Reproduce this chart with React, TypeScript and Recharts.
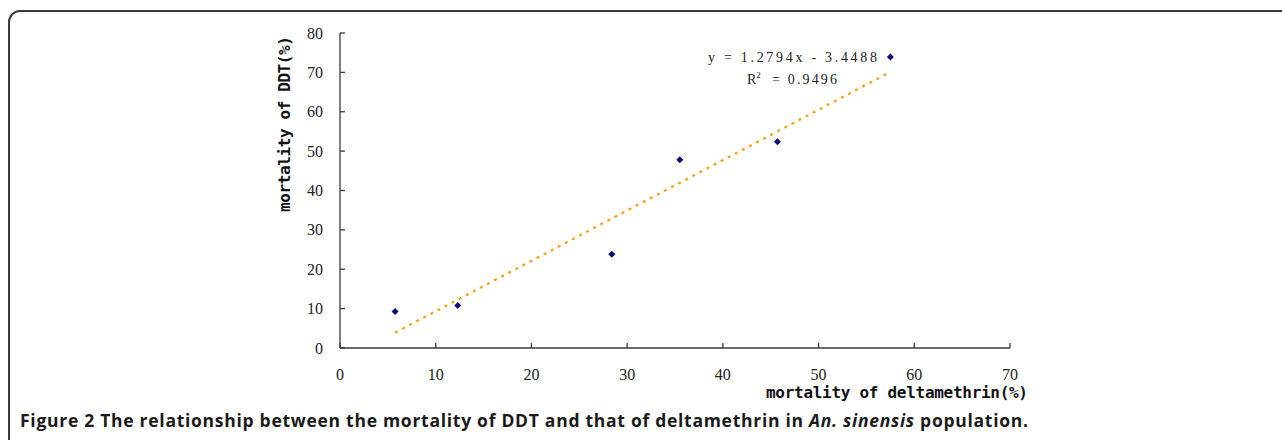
import React from "react";
import {
  ScatterChart,
  Scatter,
  XAxis,
  YAxis,
  ReferenceLine,
} from "recharts";

// deltamethrin mortality (%) vs DDT mortality (%)
const deltamethrin = [5.75, 12.3, 28.4, 35.5, 45.7, 57.5];
const ddt = [9.3, 10.8, 23.8, 47.8, 52.4, 73.9];

// ends of the fitted trend line
const trendX = [5.75, 57.5];
const trendY = [3.9, 70.1];

const xTicks = [0, 10, 20, 30, 40, 50, 60, 70];
const yTicks = [0, 10, 20, 30, 40, 50, 60, 70, 80];

const equation = "y = 1.2794x - 3.4488";
const rSquared = "= 0.9496";

const points = deltamethrin.map((x, i) => ({ x, y: ddt[i] }));

const axisColor = "#3a3a3a";
const tickFont = "'Liberation Serif', 'DejaVu Serif', serif";
const monoFont = "'DejaVu Sans Mono', 'Liberation Mono', monospace";

const XTick = (props: any) => {
  const { x, y, payload } = props;
  return (
    <g>
      <line x1={x} y1={y} x2={x} y2={y - 5} stroke={axisColor} strokeWidth={1.3} />
      <text x={x} y={y + 32} textAnchor="middle" fontFamily={tickFont} fontSize={16} fill="#222">
        {payload.value}
      </text>
    </g>
  );
};

const YTick = (props: any) => {
  const { x, y, payload } = props;
  return (
    <g>
      <line x1={x} y1={y} x2={x + 5} y2={y} stroke={axisColor} strokeWidth={1.3} />
      <text x={x - 17} y={y + 5.5} textAnchor="end" fontFamily={tickFont} fontSize={16} fill="#222">
        {payload.value}
      </text>
    </g>
  );
};

const Diamond = (props: any) => {
  const { cx, cy } = props;
  const r = 3.5;
  return (
    <polygon
      points={`${cx},${cy - r} ${cx + r},${cy} ${cx},${cy + r} ${cx - r},${cy}`}
      fill="#0a0a80"
    />
  );
};

export default function App() {
  return (
    <div
      style={{
        position: "absolute",
        left: 0,
        top: 0,
        width: 1282,
        height: 440,
        overflow: "hidden",
        background: "#fff",
      }}
    >
      <div
        style={{
          position: "absolute",
          left: 8,
          top: 10,
          width: 1300,
          height: 460,
          border: "2px solid #3a3a3a",
          borderRadius: 12,
        }}
      />
      <div style={{ position: "absolute", left: 0, top: 0 }}>
        <ScatterChart
          width={1282}
          height={440}
          margin={{ top: 33, right: 272, bottom: 0, left: 0 }}
        >
          <XAxis
            type="number"
            dataKey="x"
            domain={[0, 70]}
            ticks={xTicks}
            height={92}
            tickSize={0}
            tickMargin={0}
            tick={<XTick />}
            axisLine={{ stroke: axisColor, strokeWidth: 1.3 }}
            tickLine={false}
          />
          <YAxis
            type="number"
            dataKey="y"
            domain={[0, 80]}
            ticks={yTicks}
            width={340}
            tickSize={0}
            tickMargin={0}
            tick={<YTick />}
            axisLine={{ stroke: axisColor, strokeWidth: 1.3 }}
            tickLine={false}
          />
          <ReferenceLine
            segment={[
              { x: trendX[0], y: trendY[0] },
              { x: trendX[1], y: trendY[1] },
            ]}
            stroke="#ffa010"
            strokeWidth={2.3}
            strokeDasharray="3 5"
          />
          <Scatter
            data={points}
            shape={<Diamond />}
            isAnimationActive={false}
          />
          <text
            x={897}
            y={398}
            textAnchor="middle"
            textLength={262}
            lengthAdjust="spacing"
            fontFamily={monoFont}
            fontWeight={700}
            fontSize={16}
            fill="#111"
          >
            mortality of deltamethrin(%)
          </text>
          <text
            transform="translate(290,124) rotate(-90)"
            textAnchor="middle"
            textLength={176}
            lengthAdjust="spacing"
            fontFamily={monoFont}
            fontWeight={700}
            fontSize={16}
            fill="#111"
          >
            mortality of DDT(%)
          </text>
          <text
            x={708}
            y={62}
            textLength={169}
            lengthAdjust="spacing"
            fontFamily={tickFont}
            fontSize={14}
            fill="#222"
          >
            {equation}
          </text>
          <text x={747} y={84} fontFamily={tickFont} fontSize={14} fill="#222">
            R
            <tspan dy={-6} fontSize={9}>2</tspan>
          </text>
          <text
            x={772}
            y={84}
            textLength={65}
            lengthAdjust="spacing"
            fontFamily={tickFont}
            fontSize={14}
            fill="#222"
          >
            {rSquared}
          </text>
        </ScatterChart>
      </div>
      <svg
        width={1282}
        height={40}
        style={{ position: "absolute", left: 0, top: 400 }}
      >
        <text
          x={20}
          y={27}
          textLength={1008}
          lengthAdjust="spacing"
          fontFamily="'Open Sans', 'Noto Sans', sans-serif"
          fontSize={17.5}
          fontWeight={700}
          fill="#1a1a1a"
        >
          <tspan>Figure 2 </tspan>
          <tspan>The relationship between the mortality of DDT and that of deltamethrin in </tspan>
          <tspan fontStyle="italic">An. sinensis</tspan>
          <tspan> population.</tspan>
        </text>
      </svg>
    </div>
  );
}
